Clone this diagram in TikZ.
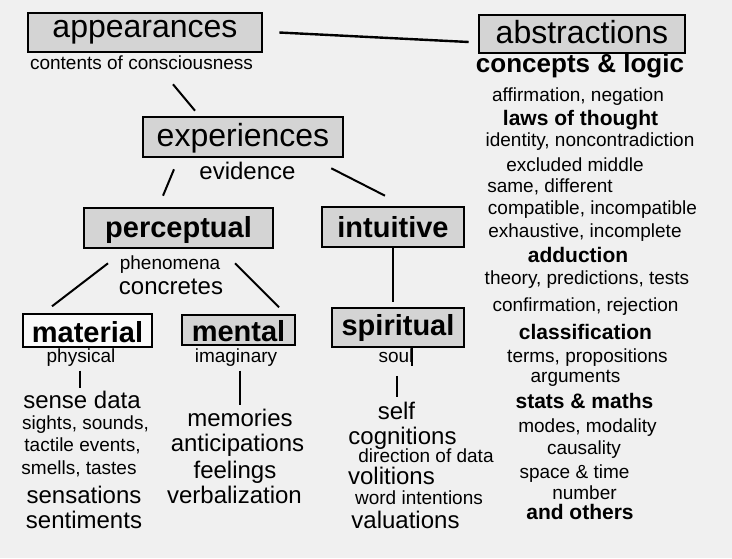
\documentclass[tikz,border=0pt]{standalone}
\usepackage{fontspec}
\setmainfont{Liberation Sans}
\definecolor{bgpaper}{RGB}{240,240,240}
\definecolor{boxgray}{RGB}{212,212,212}
\begin{document}
\begin{tikzpicture}[x=1pt, y=-1pt,
        box/.style={draw, fill=boxgray, line width=2.6pt, inner sep=0pt,
                    text height=23pt, text depth=4pt,
                    font=\fontsize{32}{36}\selectfont},
        boldbox/.style={box, text height=22pt, text depth=2pt,
                        font=\bfseries\fontsize{29}{34}\selectfont},
        lbl/.style={inner sep=0pt, text height=13.3pt, text depth=3.8pt,
                    font=\fontsize{19}{22}\selectfont},
        mid/.style={inner sep=0pt, text height=16.8pt, text depth=4.8pt,
                    font=\fontsize{24}{28}\selectfont},
        hd/.style={inner sep=0pt, text height=14.7pt, text depth=4.2pt,
                   font=\bfseries\fontsize{21}{24}\selectfont},
        link/.style={line width=2pt},
    ]
        \fill[bgpaper] (0,0) rectangle (732,558);
        \useasboundingbox (0,0) rectangle (732,558);

        % Boxes
        \node[box, text depth=14pt, minimum width=234, minimum height=39]
              (appear) at (145,32.5) {appearances};
        \node[box, minimum width=206, minimum height=38] (abstr) at (582,34)
              {abstractions};
        \node[box, minimum width=200, minimum height=40] (expe) at (243,137)
              {experiences};
        \node[boldbox, text depth=4pt, minimum width=189, minimum height=40]
              (perc) at (178.5,228) {perceptual};
        \node[boldbox, minimum width=142, minimum height=40] (intu) at (393,227)
              {intuitive};
        \node[boldbox, text height=23pt, text depth=0pt, line width=1.4pt,
              fill=bgpaper!30!white, minimum width=129, minimum height=33]
              (mate) at (87.5,330.5) {material};
        \node[boldbox, text height=23pt, text depth=0pt, line width=1.4pt,
              minimum width=113, minimum height=30] (ment) at (238.5,330) {mental};
        \node[boldbox, text height=21pt, text depth=6pt, line width=1.8pt,
              minimum width=132, minimum height=39] (spir) at (398,327.5) {spiritual};

        % Labels
        \node[lbl] (cons) at (141.5,65) {contents of consciousness};
        \node[mid] (evid) at (247.5,173) {evidence};
        \node[lbl] (phen) at (170,265) {phenomena};
        \node[mid] (conc) at (171,288) {concretes};
        \node[lbl] (phys) at (81,358) {physical};
        \node[lbl] (imag) at (236,358) {imaginary};
        \node[lbl] (soul) at (396,358) {soul};
        \node[hd, font=\bfseries\fontsize{26}{30}\selectfont] (logic) at (580,67)
              {concepts \& logic};

        \foreach \x/\y/\s/\t [count=\i] in {
            578/97/lbl/{affirmation, negation},
            580.5/120/hd/{laws of thought},
            590/142/lbl/{identity, noncontradiction},
            575/167/lbl/{excluded middle},
            550/188/lbl/{same, different},
            592.5/210/lbl/{compatible, incompatible},
            585/233/lbl/{exhaustive, incomplete},
            578/257/hd/{adduction},
            587/280/lbl/{theory, predictions, tests},
            585.5/307/lbl/{confirmation, rejection},
            585.5/334/hd/{classification},
            587.5/358/lbl/{terms, propositions},
            575.5/378/lbl/{arguments},
            584.5/403/hd/{stats \& maths},
            587.5/428/lbl/{modes, modality},
            584/450/lbl/{causality},
            574.5/474/lbl/{space \& time},
            584.5/495/lbl/{number},
            580/514/hd/{and others}}
            \node[\s] (logic\i) at (\x,\y) {\t};

        \foreach \x/\y/\s/\t [count=\i] in {
            82/402/mid/{sense data},
            85.5/425/lbl/{sights, sounds,},
            82.5/447/lbl/{tactile events,},
            79/470/lbl/{smells, tastes},
            84/497/mid/{sensations},
            84/522/mid/{sentiments}}
            \node[\s] (matr\i) at (\x,\y) {\t};

        \foreach \x/\y/\t [count=\i] in {
            240/420/{memories},
            237.5/445/{anticipations},
            235/472/{feelings},
            234.5/497/{verbalization}}
            \node[mid] (memo\i) at (\x,\y) {\t};

        \foreach \x/\y/\s/\t [count=\i] in {
            396.5/413/mid/{self},
            402.5/438/mid/{cognitions},
            426/458/lbl/{direction of data},
            391.5/478/mid/{volitions},
            419/500/lbl/{word intentions},
            405.5/522/mid/{valuations}}
            \node[\s] (self\i) at (\x,\y) {\t};

        % Links
        \draw[link, line width=2.4pt] ([xshift=16pt]appear.east)
              -- ([shift={(-9,8)}]abstr.west);
        \draw[link] ([shift={(28,31)}]appear.south) -- ([shift={(-48,-5)}]expe.north);
        \draw[link] ([shift={(-69,11)}]expe.south) -- ([shift={(-15.5,-11)}]perc.north);
        \draw[link] ([shift={(-13,10)}]expe.south east) -- ([shift={(-8,-10)}]intu.north);
        \draw[link] ([shift={(-70.5,14)}]perc.south) -- ([shift={(-35.5,-7)}]mate.north);
        \draw[link] ([shift={(56.5,14)}]perc.south) -- ([shift={(40.5,-7)}]ment.north);
        \draw[link, line width=2.6pt] (intu.south) -- ([shift={(-5,-5)}]spir.north);
        \draw[link, line width=2.8pt] ([shift={(-7.5,23)}]mate.south)
              -- ([shift={(-2,-14)}]matr1.center);
        \draw[link, line width=2.8pt] ([shift={(1.5,25)}]ment.south)
              -- ([shift={(0,-15)}]memo1.center);
        \draw[link, line width=2.8pt] ([shift={(-1,28)}]spir.south)
              -- ([shift={(0.5,-16)}]self1.center);
        \draw[line width=1.2pt] ([xshift=14pt]spir.south) -- ([shift={(14,18)}]spir.south);
    \end{tikzpicture}
\end{document}
